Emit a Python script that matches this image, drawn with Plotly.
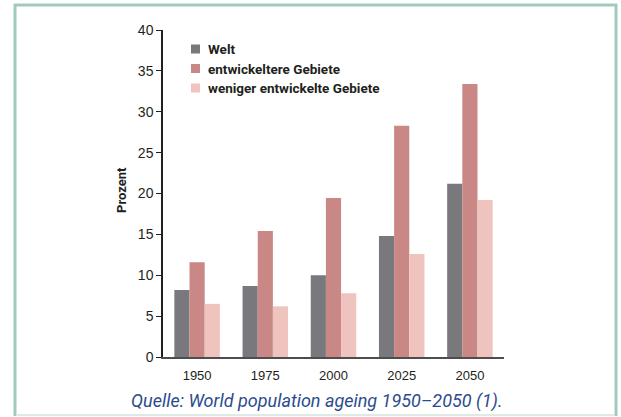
import plotly.graph_objects as go

# Anteil der Bevölkerung im Alter von 60+ Jahren (Prozent)
years = ["1950", "1975", "2000", "2025", "2050"]
series_names = ["Welt", "entwickeltere Gebiete", "weniger entwickelte Gebiete"]
welt = [8.2, 8.7, 10.0, 14.8, 21.2]
entwickelt = [11.6, 15.4, 19.45, 28.3, 33.4]
weniger = [6.5, 6.2, 7.8, 12.6, 19.2]
y_ticks = [0, 5, 10, 15, 20, 25, 30, 35, 40]
caption = "Quelle: World population ageing 1950–2050 (1)."

colors = ["#79797d", "#c98785", "#f0c4be"]
cond = "Roboto"

W, H = 621, 417
L, R, T, B = 163, 117, 30, 60
PW, PH = W - L - R, H - T - B


def px(x):
    return (x - L) / PW


def py(y):
    return (H - B - y) / PH


fig = go.Figure()
for name, vals, c in zip(series_names, [welt, entwickelt, weniger], colors):
    fig.add_trace(go.Bar(x=years, y=vals, name=name, marker=dict(color=c, line=dict(width=0)),
                         showlegend=False))

shapes = []
annotations = []

# Legende
for i, (name, c) in enumerate(zip(series_names, colors)):
    yc = 49 + i * 19.5
    shapes.append(dict(type="rect", xref="paper", yref="paper",
                       x0=px(191), x1=px(200), y0=py(yc - 4.5), y1=py(yc + 4.5),
                       fillcolor=c, line=dict(width=0)))
    annotations.append(dict(xref="paper", yref="paper", x=px(206), y=py(yc),
                            xanchor="left", yanchor="middle", showarrow=False,
                            text="<b>%s</b>" % name,
                            font=dict(family=cond, size=13.5, color="#231f20")))

# Achsentitel
annotations.append(dict(xref="paper", yref="paper", x=px(121), y=py(190),
                        xanchor="center", yanchor="middle", showarrow=False, textangle=-90,
                        text="<b>Prozent</b>",
                        font=dict(family=cond, size=13, color="#231f20")))

# Quellenangabe
annotations.append(dict(xref="paper", yref="paper", x=px(317), y=py(401),
                        xanchor="center", yanchor="middle", showarrow=False,
                        text="<i>%s</i>" % caption,
                        font=dict(family=cond, size=18, color="#2c4b8e")))

# Rahmen
frame = "#a0cbbb"
shapes += [
    dict(type="line", xref="paper", yref="paper", x0=px(15), x1=px(15), y0=py(4), y1=py(416),
         line=dict(color=frame, width=3)),
    dict(type="line", xref="paper", yref="paper", x0=px(14), x1=px(617), y0=py(5), y1=py(5),
         line=dict(color=frame, width=3)),
    dict(type="line", xref="paper", yref="paper", x0=px(616), x1=px(616), y0=py(4), y1=py(416),
         line=dict(color=frame, width=3)),
    dict(type="line", xref="paper", yref="paper", x0=px(16), x1=px(615), y0=py(415), y1=py(415),
         line=dict(color="#dcebe5", width=2)),
]

fig.update_layout(
    width=W, height=H,
    margin=dict(l=L, r=R, t=T, b=B, pad=0),
    paper_bgcolor="white", plot_bgcolor="white",
    barmode="group", bargap=0.333, bargroupgap=0,
    font=dict(family="Liberation Sans", size=13, color="#231f20"),
    shapes=shapes, annotations=annotations,
    xaxis=dict(type="category", range=[-0.5, 4.5], showline=True, linecolor="#4d4d4f", linewidth=1.5,
               ticks="", showgrid=False, zeroline=False, tickfont=dict(size=13),
               ticklabelstandoff=6),
    yaxis=dict(range=[0, 40], tickvals=y_ticks, showline=True, linecolor="#231f20", linewidth=1.5,
               ticks="outside", ticklen=5, tickcolor="#231f20", tickwidth=1, showgrid=False,
               zeroline=False, tickfont=dict(size=14), fixedrange=True),
)

fig.write_html("out.html")
